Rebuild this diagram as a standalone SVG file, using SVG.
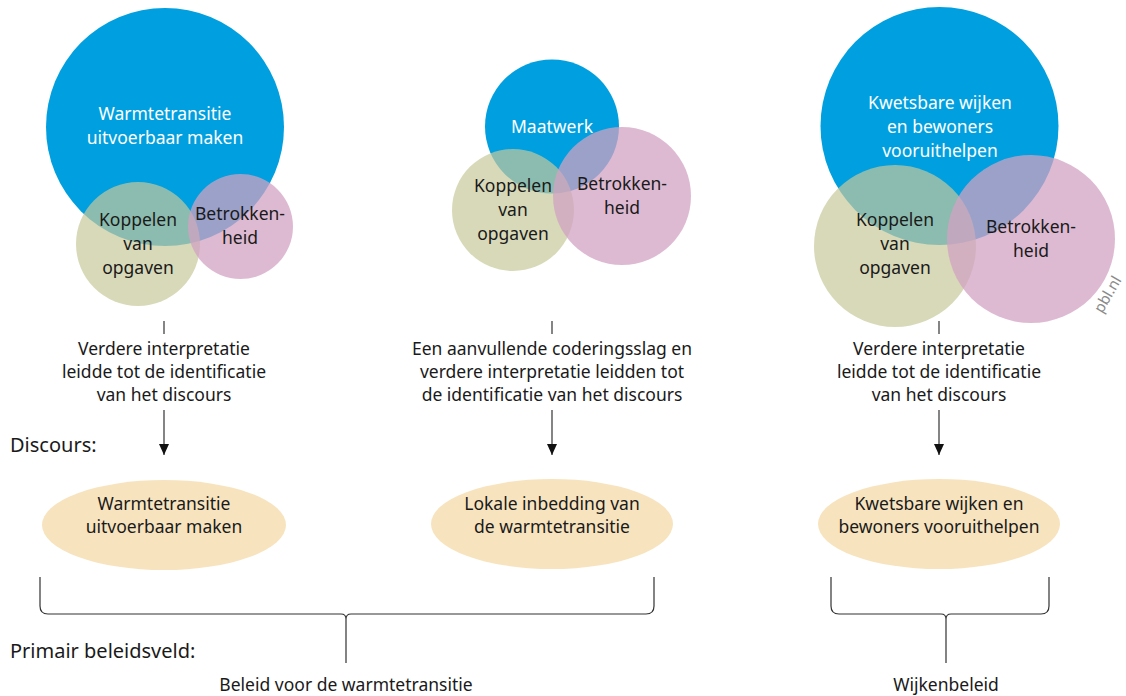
<svg xmlns="http://www.w3.org/2000/svg" width="1126" height="696" viewBox="0 0 1126 696">
<defs>
<style>
text{font-family:"Noto Sans","Open Sans","Liberation Sans",sans-serif;text-anchor:middle;fill:#1a1a1a}
.t{font-size:17.5px}
.w{fill:#ffffff;font-size:17.5px}
.lbl{font-size:20px;text-anchor:start}
.blue{fill:#009FDF}
.olive{fill:#C7C99A;opacity:0.7}
.pink{fill:#D1A3C3;opacity:0.745}
.disc{fill:#F7E4BF}
.ln{stroke:#333;stroke-width:1.2;fill:none}
</style>
<marker id="ah" viewBox="0 0 11 10" refX="11" refY="5" markerWidth="11" markerHeight="10" markerUnits="userSpaceOnUse" orient="auto">
<path d="M0,0 L11,5 L0,10 Z" fill="#111"/>
</marker>
</defs>
<rect width="1126" height="696" fill="#fff"/>

<g id="cluster1">
<circle class="blue" cx="165" cy="127" r="119"/>
<circle class="olive" cx="138" cy="244" r="62"/>
<circle class="pink" cx="240.5" cy="226.5" r="52.5"/>
<text class="w" x="165" y="120">Warmtetransitie</text>
<text class="w" x="165" y="144">uitvoerbaar maken</text>
<text class="t" x="138" y="226">Koppelen</text>
<text class="t" x="138" y="250">van</text>
<text class="t" x="138" y="274">opgaven</text>
<text class="t" x="240" y="220">Betrokken-</text>
<text class="t" x="240" y="244">heid</text>
</g>

<g id="cluster2">
<circle class="blue" cx="552" cy="126.5" r="67"/>
<circle class="olive" cx="513" cy="210" r="61"/>
<circle class="pink" cx="622" cy="196" r="69"/>
<text class="w" x="552" y="133">Maatwerk</text>
<text class="t" x="513" y="192">Koppelen</text>
<text class="t" x="513" y="216">van</text>
<text class="t" x="513" y="240">opgaven</text>
<text class="t" x="622" y="190">Betrokken-</text>
<text class="t" x="622" y="214">heid</text>
</g>

<g id="cluster3">
<circle class="blue" cx="939.5" cy="126" r="119"/>
<circle class="olive" cx="895" cy="246" r="81"/>
<circle class="pink" cx="1031" cy="239" r="84"/>
<text class="w" x="940" y="109">Kwetsbare wijken</text>
<text class="w" x="940" y="133">en bewoners</text>
<text class="w" x="940" y="157">vooruithelpen</text>
<text class="t" x="895" y="226">Koppelen</text>
<text class="t" x="895" y="250">van</text>
<text class="t" x="895" y="274">opgaven</text>
<text class="t" x="1031" y="233">Betrokken-</text>
<text class="t" x="1031" y="257">heid</text>
</g>

<g id="pbl">
<text x="1112" y="297" transform="rotate(-60 1112 297)" style="font-size:15px;fill:#8a8a8a;text-anchor:middle">pbl.nl</text>
</g>

<g id="step1">
<text class="t" x="164" y="355">Verdere interpretatie</text>
<text class="t" x="164" y="378">leidde tot de identificatie</text>
<text class="t" x="164" y="401">van het discours</text>
</g>
<g id="step2">
<text class="t" x="552" y="355">Een aanvullende coderingsslag en</text>
<text class="t" x="552" y="378">verdere interpretatie leidden tot</text>
<text class="t" x="552" y="401">de identificatie van het discours</text>
</g>
<g id="step3">
<text class="t" x="939" y="355">Verdere interpretatie</text>
<text class="t" x="939" y="378">leidde tot de identificatie</text>
<text class="t" x="939" y="401">van het discours</text>
</g>

<g id="labels">
<text class="lbl" x="10" y="452">Discours:</text>
<text class="lbl" x="10" y="658">Primair beleidsveld:</text>
</g>

<g id="discours1">
<ellipse class="disc" cx="164" cy="525" rx="122" ry="45"/>
<text class="t" x="164" y="510">Warmtetransitie</text>
<text class="t" x="164" y="533">uitvoerbaar maken</text>
</g>
<g id="discours2">
<ellipse class="disc" cx="552" cy="524" rx="121" ry="45"/>
<text class="t" x="552" y="510">Lokale inbedding van</text>
<text class="t" x="552" y="533">de warmtetransitie</text>
</g>
<g id="discours3">
<ellipse class="disc" cx="939" cy="524" rx="121" ry="45"/>
<text class="t" x="939" y="510">Kwetsbare wijken en</text>
<text class="t" x="939" y="533">bewoners vooruithelpen</text>
</g>

<g id="beleid1">
<text class="t" x="346" y="691">Beleid voor de warmtetransitie</text>
</g>
<g id="beleid2">
<text class="t" x="946" y="691">Wijkenbeleid</text>
</g>

<g id="connectors">
<path class="ln" d="M164,321 V334"/>
<path class="ln" d="M552,321 V334"/>
<path class="ln" d="M939,321 V334"/>
<path class="ln" d="M164,410 V455" marker-end="url(#ah)"/>
<path class="ln" d="M552,410 V455" marker-end="url(#ah)"/>
<path class="ln" d="M939,410 V455" marker-end="url(#ah)"/>
<path class="ln" d="M40,577 V606 Q40,614 48,614 H341 Q346,614 346,619 M654,577 V606 Q654,614 646,614 H351 Q346,614 346,619 V663"/>
<path class="ln" d="M831,577 V606 Q831,614 839,614 H941 Q946,614 946,619 M1049,577 V606 Q1049,614 1041,614 H951 Q946,614 946,619 V663"/>
</g>
</svg>
